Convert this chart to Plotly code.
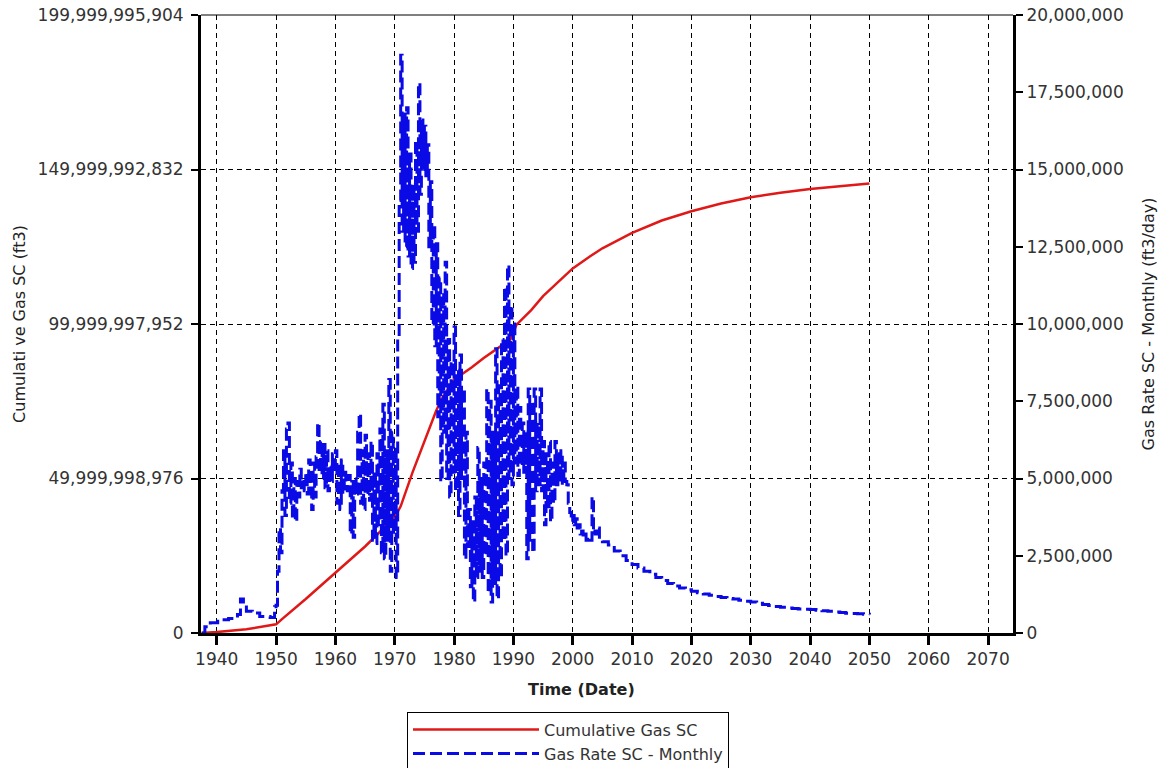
import pandas as pd
import plotly.graph_objects as go

# ---------------- data ----------------
# Cumulative gas (billions of ft3)
cum_dates = ["1937-06-01", "1940-01-01", "1945-01-01", "1950-01-01", "1951-01-01", "1955-01-01",
             "1960-01-01", "1965-01-01", "1970-01-01", "1971-01-01", "1973-01-01", "1975-01-01",
             "1977-01-01", "1978-01-01", "1980-01-01", "1983-01-01", "1985-01-01", "1988-01-01",
             "1989-07-01", "1990-07-01", "1993-01-01", "1995-01-01", "1998-01-01", "2000-01-01",
             "2003-01-01", "2005-01-01", "2010-01-01", "2015-01-01", "2020-01-01", "2025-01-01",
             "2030-01-01", "2035-01-01", "2040-01-01", "2045-01-01", "2050-01-01"]
cum_gas_bn = [0.0, 0.3, 1.2, 2.8, 4.5, 11.0,
              19.5, 28.0, 37.5, 41.0, 52.0, 62.0,
              72.0, 76.0, 82.0, 86.0, 89.0, 93.0,
              95.0, 99.7, 104.5, 109.0, 114.5, 118.0,
              122.0, 124.5, 129.5, 133.5, 136.5, 139.0,
              141.0, 142.5, 143.7, 144.7, 145.5]

# Monthly gas rate (millions of ft3/day), early period
early_dates = ["1937-07-01", "1938-01-01", "1938-12-01", "1940-03-01", "1942-01-01", "1943-07-01",
               "1944-01-01", "1944-07-01", "1945-01-01", "1946-01-01", "1947-04-01", "1949-01-01",
               "1949-10-01"]
early_rate = [0.0, 0.2, 0.33, 0.43, 0.47, 0.6,
              1.1, 0.9, 0.7, 0.65, 0.53, 0.5,
              0.85]

# Gas rate, quarterly readings 1950 - 2004 (millions of ft3/day)
noisy_start = "1950-01-01"
noisy_rate = [
    0.9, 2.0, 3.4, 2.6,      # 1950
    4.6, 5.9, 3.8, 6.6,      # 1951
    6.8, 4.2, 5.5, 3.7,      # 1952
    5.0, 3.6, 4.9, 4.4,      # 1953
    5.3, 4.7, 5.0, 4.6,      # 1954
    5.2, 4.5, 5.6, 4.8,      # 1955
    4.0, 5.5, 4.4, 5.7,      # 1956
    6.8, 5.2, 6.2, 5.0,      # 1957
    6.1, 4.7, 5.9, 4.6,      # 1958
    5.4, 4.9, 5.8, 5.2,      # 1959
    5.9, 4.2, 5.5, 4.0,      # 1960
    5.6, 4.5, 5.2, 4.8,      # 1961
    4.6, 5.1, 3.2, 4.9,      # 1962
    3.1, 5.0, 4.5, 6.5,      # 1963
    7.1, 4.2, 5.9, 4.0,      # 1964
    6.4, 4.5, 5.8, 4.3,      # 1965
    6.2, 3.0, 5.2, 2.9,      # 1966
    5.8, 3.5, 6.6, 2.6,      # 1967
    7.4, 2.4, 5.9, 3.0,      # 1968
    8.2, 2.0, 6.5, 3.2,      # 1969
    6.0, 1.8, 9.5, 14.0,     # 1970
    18.7, 13.0, 16.8, 12.5,  # 1971
    17.0, 12.2, 15.5, 11.8,  # 1972
    14.5, 12.0, 15.9, 13.0,  # 1973
    17.8, 14.2, 16.6, 15.0,  # 1974
    16.4, 14.8, 15.8, 12.5,  # 1975
    14.6, 10.0, 13.2, 9.3,   # 1976
    12.6, 7.0, 11.5, 4.9,    # 1977
    11.0, 6.5, 12.0, 5.0,    # 1978
    9.5, 4.4, 8.8, 5.2,      # 1979
    9.9, 4.6, 8.5, 3.8,      # 1980
    9.0, 5.0, 7.9, 2.4,      # 1981
    6.5, 2.8, 4.0, 1.5,      # 1982
    3.6, 1.0, 4.4, 1.8,      # 1983
    6.0, 2.0, 5.0, 1.8,      # 1984
    5.5, 2.5, 7.9, 1.3,      # 1985
    7.5, 1.0, 6.5, 1.6,      # 1986
    9.2, 1.1, 8.0, 1.8,      # 1987
    9.5, 3.0, 11.2, 2.5,     # 1988
    11.9, 5.0, 10.6, 4.8,    # 1989
    10.0, 5.5, 8.0, 5.1,     # 1990
    7.3, 5.4, 6.8, 5.2,      # 1991
    6.5, 2.4, 7.9, 3.0,      # 1992
    7.5, 2.6, 7.9, 4.6,      # 1993
    6.8, 4.8, 7.9, 4.6,      # 1994
    6.2, 3.5, 5.8, 4.0,      # 1995
    6.2, 3.6, 5.5, 4.2,      # 1996
    6.2, 4.8, 5.8, 4.9,      # 1997
    5.9, 4.8, 5.5, 4.9,      # 1998
    4.8, 4.2, 3.9, 3.6,      # 1999
    3.8, 3.5, 3.7, 3.4,      # 2000
    3.5, 3.2, 3.3, 3.1,      # 2001
    3.2, 3.0, 3.1, 3.0,      # 2002
    3.0, 4.4, 3.2, 3.3,      # 2003
    3.2, 3.4, 3.0, 3.0,      # 2004
]

# Gas rate forecast decline, yearly readings 2005 - 2050 (millions of ft3/day)
decline_start = "2005-01-01"
decline_rate = [2.95, 2.85, 2.65, 2.5, 2.35, 2.22, 2.1, 2.0, 1.9, 1.8,
                1.7, 1.6, 1.52, 1.46, 1.4, 1.35, 1.3, 1.26, 1.22, 1.18,
                1.15, 1.12, 1.1, 1.06, 1.03, 1.0, 0.96, 0.92, 0.89, 0.86,
                0.83, 0.81, 0.79, 0.78, 0.77, 0.76, 0.74, 0.72, 0.70, 0.68,
                0.66, 0.64, 0.63, 0.62, 0.61, 0.60]

left_tickvals = [0, 49999998976, 99999997952, 149999992832, 199999995904]
left_ticktext = ["0", "49,999,998,976", "99,999,997,952", "149,999,992,832", "199,999,995,904"]
x_range = ["1937-05-08", "2074-03-15"]

# ---------------- build ----------------
noisy_dates = pd.date_range(noisy_start, periods=len(noisy_rate), freq="QS")
decline_dates = pd.date_range(decline_start, periods=len(decline_rate), freq="YS")

rate_x = list(pd.to_datetime(early_dates)) + list(noisy_dates) + list(decline_dates)
rate_y = [v * 1e6 for v in early_rate + noisy_rate + decline_rate]

cum_x = pd.to_datetime(cum_dates)
cum_y = [v * 1e9 for v in cum_gas_bn]

FONT = "DejaVu Sans"
TXT = "#333333"

fig = go.Figure()
fig.add_trace(go.Scatter(
    x=rate_x, y=rate_y, yaxis="y2", mode="lines", name="Gas Rate SC - Monthly",
    line=dict(color="#0a0ae6", width=3, dash="12px,5px", shape="hv"), legendrank=2))
fig.add_trace(go.Scatter(
    x=cum_x, y=cum_y, yaxis="y", mode="lines", name="Cumulative Gas SC",
    line=dict(color="#e01818", width=2.5), legendrank=1))

fig.update_layout(
    width=1169, height=782,
    margin=dict(l=201, r=156, t=15, b=148),
    paper_bgcolor="white", plot_bgcolor="white",
    font=dict(family=FONT, size=16, color=TXT),
    xaxis=dict(
        type="date", range=x_range, tick0="1940-01-01", dtick="M120", tickformat="%Y",
        showline=True, linecolor="black", linewidth=3, automargin=False,
        ticks="outside", ticklen=9, tickwidth=3, tickcolor="black",
        showgrid=True, gridcolor="black", gridwidth=1.2, griddash="5px,4px",
        zeroline=False,
        tickfont=dict(size=17, color=TXT),
    ),
    yaxis=dict(
        range=[0, 199999995904], tickmode="array", tickvals=left_tickvals, ticktext=left_ticktext,
        showline=True, linecolor="black", linewidth=3, automargin=False,
        ticks="outside", ticklen=7, tickwidth=2, tickcolor="black", ticklabelstandoff=4,
        showgrid=True, gridcolor="black", gridwidth=1.2, griddash="5px,4px",
        zeroline=False,
        tickfont=dict(size=17, color=TXT),
        title=dict(text="Cumulati ve Gas SC (ft3)", font=dict(size=16, color="#222"), standoff=8),
    ),
    yaxis2=dict(
        range=[0, 20000000], dtick=2500000, tick0=0, tickformat=",d",
        overlaying="y", side="right", automargin=False,
        showline=True, linecolor="black", linewidth=3,
        ticks="outside", ticklen=7, tickwidth=2, tickcolor="black",
        showgrid=False, zeroline=False,
        tickfont=dict(size=17, color=TXT),
        title=dict(text="Gas Rate SC - Monthly (ft3/day)", font=dict(size=16, color="#222"), standoff=21),
    ),
    legend=dict(
        x=0.2537, y=-0.1255, xanchor="left", yanchor="top", orientation="v",
        bordercolor="black", borderwidth=1, bgcolor="white",
        itemwidth=126, font=dict(size=16, color=TXT), tracegroupgap=0,
    ),
    annotations=[dict(text="<b>Time (Date)</b>", xref="paper", yref="paper",
                      x=0.468, y=-0.0913, xanchor="center", yanchor="middle",
                      showarrow=False, font=dict(size=16, color="#222"))],
    shapes=[dict(type="line", xref="paper", yref="paper", x0=0, x1=1, y0=1, y1=1,
                 line=dict(color="black", width=1))],
)

page_fix = ("document.body.style.margin='0';"
            "var d=document.getElementById('{plot_id}');"
            "d.style.position='absolute';d.style.left='0px';d.style.top='0px';")

fig.write_html("out.html", post_script=page_fix, config={"displayModeBar": False})
